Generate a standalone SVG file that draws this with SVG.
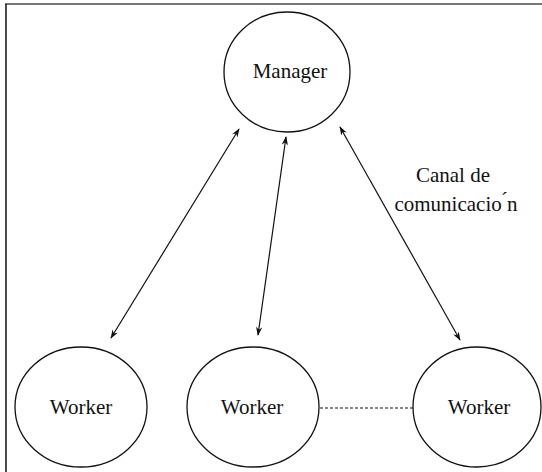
<svg xmlns="http://www.w3.org/2000/svg" width="542" height="472" viewBox="0 0 542 472">
  <defs>
    <style>
      .node { fill: none; stroke: #111; stroke-width: 1.3; }
      .label { font-family: "Liberation Serif", "DejaVu Serif", serif; font-size: 21px; fill: #111; text-anchor: middle; }
      .link { stroke: #111; stroke-width: 1.2; fill: none; }
      .peer { stroke: #111; stroke-width: 1.2; stroke-dasharray: 3 2; fill: none; }
    </style>
    <marker id="head" viewBox="0 0 10 10" refX="9" refY="5" markerWidth="9" markerHeight="9" orient="auto-start-reverse" markerUnits="userSpaceOnUse">
      <path d="M0,1.5 L10,5 L0,8.5 L3,5 Z" fill="#111"/>
    </marker>
  </defs>

  <rect x="0" y="0" width="542" height="472" fill="#fff"/>
  <!-- frame -->
  <line x1="5" y1="4" x2="542" y2="4" stroke="#777" stroke-width="2"/>
  <line x1="6" y1="4" x2="6" y2="472" stroke="#111" stroke-width="1.5"/>

  <g id="manager">
    <ellipse class="node" cx="287" cy="72" rx="63" ry="60"/>
    <text class="label" x="290" y="78">Manager</text>
  </g>
  <g id="worker1">
    <ellipse class="node" cx="81" cy="407" rx="66" ry="60"/>
    <text class="label" x="81" y="414">Worker</text>
  </g>
  <g id="worker2">
    <ellipse class="node" cx="253" cy="407" rx="66" ry="60"/>
    <text class="label" x="252" y="414">Worker</text>
  </g>
  <g id="worker3">
    <ellipse class="node" cx="477" cy="407" rx="64" ry="60"/>
    <text class="label" x="479" y="414">Worker</text>
  </g>

  <g id="connectors">
    <line class="link" x1="239" y1="129" x2="111" y2="338" marker-start="url(#head)" marker-end="url(#head)"/>
    <line class="link" x1="286" y1="137" x2="258" y2="335" marker-start="url(#head)" marker-end="url(#head)"/>
    <line class="link" x1="340" y1="127" x2="460" y2="340" marker-start="url(#head)" marker-end="url(#head)"/>
    <line class="peer" x1="320" y1="408" x2="413" y2="408"/>
  </g>

  <g id="channel-label">
    <text class="label" x="453" y="182">Canal de</text>
    <text class="label" x="456" y="211">comunicacio ́n</text>
  </g>
</svg>
